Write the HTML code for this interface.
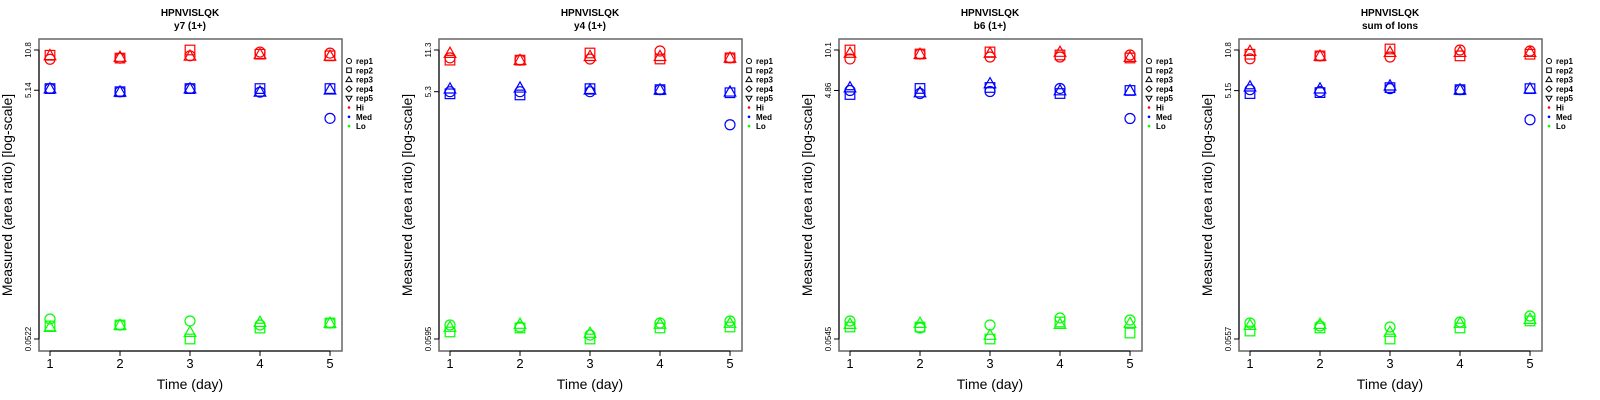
<!DOCTYPE html>
<html><head><meta charset="utf-8"><style>
html,body{margin:0;padding:0;background:#fff;}
svg{display:block;font-family:"Liberation Sans",Arial,sans-serif;}
</style></head><body>
<svg id="chart" width="1600" height="400" xmlns="http://www.w3.org/2000/svg"></svg>
<script>
const days = [1,2,3,4,5];
const reps = ['rep1','rep2','rep3'];
const groups = ['Hi','Med','Lo'];
const titles = ['y7 (1+)','y4 (1+)','b6 (1+)','sum of Ions'];
const tickTop = [10.8, 11.3, 10.1, 10.8];
const tickMid = [5.14, 5.3, 4.86, 5.15];
const tickBot = [0.0522, 0.0595, 0.0545, 0.0557];
const tickTopLabel = ['10.8','11.3','10.1','10.8'];
const tickMidLabel = ['5.14','5.3','4.86','5.15'];
const tickBotLabel = ['0.0522','0.0595','0.0545','0.0557'];
// values[panel][group][rep][day]
const p1Hi  = [[9.1,9.3,9.7,10.4,10.2],[9.8,9.3,10.8,10.0,9.7],[9.8,9.5,9.7,10.0,9.7]];
const p1Med = [[5.3,5.0,5.3,4.96,3.06],[5.3,5.0,5.3,5.3,5.3],[5.3,5.0,5.3,5.0,5.2]];
const p1Lo  = [[0.0755,0.0676,0.0728,0.0676,0.0701],[0.0664,0.0676,0.0522,0.0639,0.0701],[0.0651,0.0676,0.0594,0.0714,0.0701]];
const p2Hi  = [[9.8,9.4,9.6,11.1,9.8],[9.4,9.4,10.7,9.6,9.8],[10.7,9.4,10.1,10.1,9.8]];
const p2Med = [[5.3,5.3,5.3,5.5,2.91],[5.1,5.0,5.6,5.5,5.2],[5.6,5.7,5.5,5.5,5.3]];
const p2Lo  = [[0.0768,0.074,0.064,0.0796,0.0825],[0.0676,0.0727,0.0595,0.0727,0.074],[0.074,0.0782,0.0664,0.0782,0.0796]];
const p3Hi  = [[8.59,9.39,8.9,8.9,9.23],[10.1,9.39,9.75,9.23,8.74],[9.57,9.39,9.57,9.75,8.9]];
const p3Med = [[4.86,4.6,4.77,5.04,2.93],[4.52,5.04,5.13,4.6,4.86],[5.13,4.69,5.52,4.86,4.86]];
const p3Lo  = [[0.0754,0.0665,0.0702,0.0796,0.0768],[0.0677,0.0677,0.0545,0.0741,0.0607],[0.0714,0.0727,0.0586,0.0714,0.0727]];
const p4Hi  = [[9.2,9.7,9.5,10.8,10.6],[10.0,9.7,11.0,9.7,10.0],[10.6,9.7,10.4,10.4,10.4]];
const p4Med = [[5.24,5.06,5.34,5.24,3.03],[4.88,4.97,5.44,5.24,5.34],[5.54,5.34,5.64,5.24,5.34]];
const p4Lo  = [[0.0746,0.0706,0.0693,0.076,0.0847],[0.0644,0.0681,0.0557,0.0681,0.0774],[0.0719,0.0732,0.0633,0.0746,0.0802]];
const panelData = [[p1Hi,p1Med,p1Lo],[p2Hi,p2Med,p2Lo],[p3Hi,p3Med,p3Lo],[p4Hi,p4Med,p4Lo]];
const groupColors = ['#ff0000','#0000ff','#00ff00'];

const NS='http://www.w3.org/2000/svg';
const svg=document.getElementById('chart');
function mk(tag,attrs,parent){const e=document.createElementNS(NS,tag);for(const k in attrs)e.setAttribute(k,attrs[k]);(parent||svg).appendChild(e);return e;}

const boxL=39, boxR=342, boxT=39, boxB=351, yTopPx=50, yBotPx=339;
function xScale(d){return boxL+11+(d-1)*70;}
function yScale(v,p){const a=Math.log(tickBot[p]),b=Math.log(tickTop[p]);return yBotPx-(Math.log(v)-a)/(b-a)*(yBotPx-yTopPx);}

function marker(g,shape,cx,cy,color,size){
  let e;
  if(shape===0){e=mk('circle',{cx:cx,cy:cy,r:5*size,fill:'none',stroke:color,'stroke-width':1.2},g);}
  else if(shape===1){e=mk('rect',{x:cx-4.8*size,y:cy-4.8*size,width:9.6*size,height:9.6*size,fill:'none',stroke:color,'stroke-width':1.2},g);}
  else {const s=5.8*size;e=mk('polygon',{points:`${cx},${cy-s} ${cx-s},${cy+s*0.75} ${cx+s},${cy+s*0.75}`,fill:'none',stroke:color,'stroke-width':1.2},g);}
  return e;
}

for(let p=0;p<4;p++){
  const g=mk('g',{transform:`translate(${p*400},0)`});
  
  
  let t=mk('text',{x:190,y:16,'text-anchor':'middle','font-size':10,'font-weight':'bold'},g);t.textContent='HPNVISLQK';
  
  
  t=mk('text',{x:190,y:29,'text-anchor':'middle','font-size':10,'font-weight':'bold'},g);t.textContent=titles[p];
  
  
  const box=mk('rect',{x:boxL,y:boxT,width:boxR-boxL,height:boxB-boxT,fill:'none',stroke:'#666','stroke-width':1.5},g);
  
  
  const yv=[tickTop[p],tickMid[p],tickBot[p]], yl=[tickTopLabel[p],tickMidLabel[p],tickBotLabel[p]];
  mk('line',{x1:boxL,x2:boxL,y1:yScale(tickTop[p],p),y2:yScale(tickBot[p],p),stroke:'#000','stroke-width':1},g);
  for(let i=0;i<3;i++){
    const y=yScale(yv[i],p);
    mk('line',{x1:boxL-5,x2:boxL,y1:y,y2:y,stroke:'#000'},g);
    const tl=mk('text',{x:31,y:y,'text-anchor':'middle','font-size':8,transform:`rotate(-90 31 ${y})`},g);
    tl.textContent=yl[i];
    
    
  }
  const yt=mk('text',{x:12,y:195,'text-anchor':'middle','font-size':14,transform:'rotate(-90 12 195)'},g);
  yt.textContent='Measured (area ratio) [log-scale]';
  
  
  mk('line',{x1:xScale(1),x2:xScale(5),y1:boxB,y2:boxB,stroke:'#000'},g);
  days.forEach(d=>{
    const x=xScale(d);
    mk('line',{x1:x,x2:x,y1:boxB,y2:boxB+5,stroke:'#000'},g);
    const tl=mk('text',{x:x,y:368,'text-anchor':'middle','font-size':13},g);
    tl.textContent=d;
    
    
  });
  const xt=mk('text',{x:190,y:389,'text-anchor':'middle','font-size':14},g);
  xt.textContent='Time (day)';
  
  
  for(let gi=0;gi<3;gi++){
    for(let r=0;r<reps.length;r++){
      days.forEach((d,di)=>{
        const m=marker(g,r,xScale(d),yScale(panelData[p][gi][r][di],p),groupColors[gi],1);
        
        
      });
    }
  }
  const leg=mk('g',{},g);
  
  
  const labels=['rep1','rep2','rep3','rep4','rep5','Hi','Med','Lo'];
  labels.forEach((lab,i)=>{
    const y=61+i*9.3, sx=349;
    if(i===0) mk('circle',{cx:sx,cy:y,r:2.5,fill:'none',stroke:'#000'},leg);
    else if(i===1) mk('rect',{x:sx-2.3,y:y-2.3,width:4.6,height:4.6,fill:'none',stroke:'#000'},leg);
    else if(i===2) mk('polygon',{points:`${sx},${y-3} ${sx-3},${y+2} ${sx+3},${y+2}`,fill:'none',stroke:'#000'},leg);
    else if(i===3) mk('polygon',{points:`${sx},${y-3} ${sx+3},${y} ${sx},${y+3} ${sx-3},${y}`,fill:'none',stroke:'#000'},leg);
    else if(i===4) mk('polygon',{points:`${sx},${y+3} ${sx-3},${y-2} ${sx+3},${y-2}`,fill:'none',stroke:'#000'},leg);
    else mk('circle',{cx:sx,cy:y,r:1.3,fill:groupColors[i-5]},leg);
    const lt=mk('text',{x:356,y:y+3,'font-size':8,'font-weight':'bold'},leg);
    lt.textContent=lab;
    
    
  });
}
</script>
</body></html>
